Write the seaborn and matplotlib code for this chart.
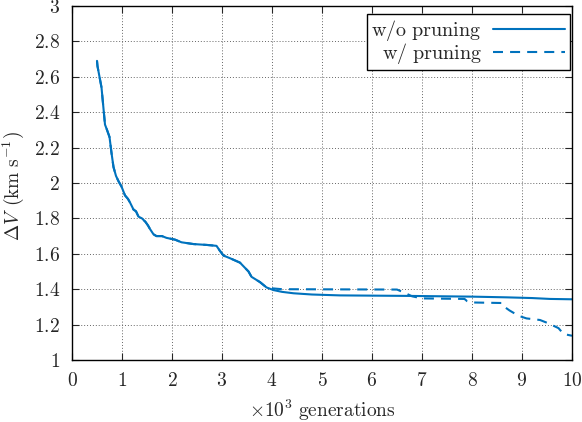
import pandas as pd
import seaborn as sns
import matplotlib.pyplot as plt
from matplotlib.ticker import FuncFormatter, MultipleLocator

# Data (x in thousands of generations)
gen_shared = [0.50, 0.51, 0.55, 0.59, 0.62, 0.66, 0.70, 0.75, 0.79, 0.83, 0.88, 0.93,
              0.99, 1.06, 1.12, 1.16, 1.23, 1.28, 1.33, 1.40, 1.47, 1.52, 1.56, 1.63,
              1.69, 1.80, 1.89, 2.06, 2.19, 2.43, 2.70, 2.89, 2.95, 3.03, 3.16, 3.36,
              3.53, 3.59, 3.76, 3.89]
dv_shared = [2.69, 2.66, 2.60, 2.54, 2.45, 2.33, 2.30, 2.26, 2.17, 2.09, 2.04, 2.01,
             1.98, 1.93, 1.91, 1.89, 1.85, 1.84, 1.81, 1.80, 1.78, 1.76, 1.74, 1.71,
             1.70, 1.70, 1.69, 1.68, 1.665, 1.655, 1.65, 1.645, 1.62, 1.59, 1.575, 1.55,
             1.50, 1.47, 1.44, 1.41]

gen_wo_tail = [4.03, 4.20, 4.43, 4.80, 5.36, 6.76, 8.00, 8.69, 9.20, 9.56, 10.0]
dv_wo_tail = [1.395, 1.385, 1.377, 1.370, 1.365, 1.362, 1.358, 1.354, 1.350, 1.345, 1.343]

gen_w_tail = [4.00, 4.20, 6.50, 6.65, 6.80, 7.00, 7.85, 7.90, 8.00, 8.60, 8.65, 8.75,
              8.93, 9.09, 9.36, 9.53, 9.73, 9.83, 10.0]
dv_w_tail = [1.405, 1.400, 1.398, 1.380, 1.360, 1.348, 1.345, 1.333, 1.325, 1.322, 1.300,
             1.280, 1.250, 1.235, 1.226, 1.207, 1.180, 1.147, 1.137]

df_wo = pd.DataFrame({'gen': gen_shared + gen_wo_tail, 'dv': dv_shared + dv_wo_tail})
df_w = pd.DataFrame({'gen': gen_shared + gen_w_tail, 'dv': dv_shared + dv_w_tail})

sns.set_style('ticks', {'xtick.direction': 'in', 'ytick.direction': 'in'})
plt.rcParams['mathtext.fontset'] = 'cm'
plt.rcParams['font.family'] = ['DejaVu Serif']
fs = 14

fig = plt.figure(figsize=(5.82, 4.22), dpi=100)
ax = fig.add_axes([72 / 582, 62 / 422, 500 / 582, 354 / 422])

blue = '#0072bd'
sns.lineplot(data=df_w, x='gen', y='dv', ax=ax, color=blue, lw=1.5, sort=False,
             estimator=None, label=r'$\mathrm{w/\ pruning}$', dashes=False,
             linestyle=(0, (4.8, 3.4)))
sns.lineplot(data=df_wo, x='gen', y='dv', ax=ax, color=blue, lw=1.5, sort=False,
             estimator=None, label=r'$\mathrm{w/o\ pruning}$')

ax.set_xlim(0, 10)
ax.set_ylim(1, 3)
ax.xaxis.set_major_locator(MultipleLocator(1))
ax.yaxis.set_major_locator(MultipleLocator(0.2))
ax.xaxis.set_major_formatter(FuncFormatter(lambda v, p: f'${v:g}$'))
ax.yaxis.set_major_formatter(FuncFormatter(lambda v, p: f'${v:g}$'))
ax.tick_params(which='both', direction='in', top=True, right=True, length=5,
               width=0.8, labelsize=fs, pad=8.5)
ax.grid(True, linestyle=(0, (1, 2)), color='#666666', lw=0.7)
for s in ax.spines.values():
    s.set_color('black')
    s.set_linewidth(1.0)

ax.set_xlabel(r'$\times 10^3\ \mathrm{generations}$', fontsize=fs)
ax.xaxis.set_label_coords(0.5, -0.108)
ax.set_ylabel(r'$\Delta V\;\,(\mathrm{km\ s^{-1}})$', fontsize=fs)
ax.yaxis.set_label_coords(-0.092, 0.49)

h, l = ax.get_legend_handles_labels()
leg = ax.legend(h[::-1], l[::-1], loc='upper right', bbox_to_anchor=(0.995, 0.977),
                markerfirst=False, fancybox=False, framealpha=1, edgecolor='black',
                fontsize=14.5, handlelength=3.6, borderpad=0.2, labelspacing=-0.12,
                handletextpad=0.55, borderaxespad=0)
leg.get_frame().set_linewidth(1.0)

fig.savefig('out.png', dpi=100)
